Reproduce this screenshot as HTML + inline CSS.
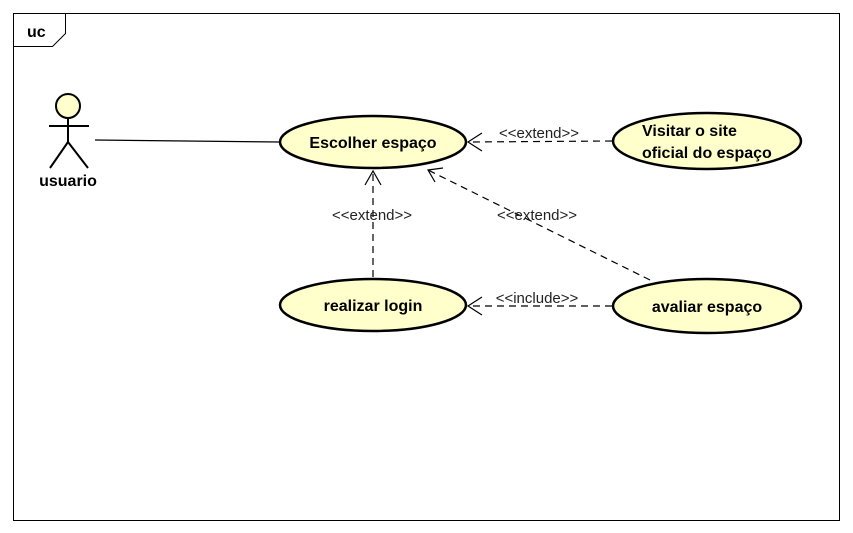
<!DOCTYPE html>
<html><head><meta charset="utf-8"><style>
html,body{margin:0;padding:0;background:#fff;width:853px;height:533px;overflow:hidden}
</style></head><body>
<svg width="853" height="533" xmlns="http://www.w3.org/2000/svg" font-family="Liberation Sans, sans-serif">
<rect x="0" y="0" width="853" height="533" fill="#fff"/>
<rect x="13.5" y="13.5" width="826" height="507" fill="none" stroke="#000" stroke-width="1"/>
<path d="M13.5 46.5 H52.5 L65.5 33.5 V13.5" fill="none" stroke="#000"/>
<text x="27" y="37" font-size="16" font-weight="bold">uc</text>
<!-- actor -->
<circle cx="68" cy="106" r="12" fill="#ffffcc" stroke="#000" stroke-width="2"/>
<line x1="49" y1="126" x2="89" y2="126" stroke="#000" stroke-width="2"/>
<line x1="68" y1="118" x2="68" y2="142" stroke="#000" stroke-width="2"/>
<polyline points="50,168 68,142 88,168" fill="none" stroke="#000" stroke-width="2"/>
<text x="68" y="186" font-size="16" font-weight="bold" text-anchor="middle">usuario</text>
<line x1="95" y1="140" x2="280" y2="142" stroke="#000" stroke-width="1.3"/>
<!-- ellipses -->
<g fill="#ffffcc" stroke="#000" stroke-width="2.5">
<ellipse cx="373" cy="142" rx="93" ry="26"/>
<ellipse cx="373" cy="305" rx="93" ry="26"/>
<ellipse cx="707" cy="141" rx="94" ry="28"/>
<ellipse cx="707" cy="306" rx="94" ry="27"/>
</g>
<g font-size="16" font-weight="bold">
<text x="373" y="148" text-anchor="middle">Escolher espaço</text>
<text x="373" y="311" text-anchor="middle">realizar login</text>
<text x="642" y="136">Visitar o site</text>
<text x="642" y="158">oficial do espaço</text>
<text x="707" y="312" text-anchor="middle">avaliar espaço</text>
</g>
<!-- connectors -->
<g stroke="#000" stroke-width="1.2" fill="none">
<line x1="612" y1="141" x2="468" y2="142" stroke-dasharray="7,5"/>
<polyline points="482,133 468,142 482,151"/>
<line x1="373" y1="277" x2="373" y2="171" stroke-dasharray="7,5"/>
<polyline points="365,185 373,171 381,185"/>
<line x1="650" y1="280" x2="428" y2="170" stroke-dasharray="7,5"/>
<polyline points="435,182 428,170 443,168"/>
<line x1="612" y1="306" x2="468" y2="306" stroke-dasharray="7,5"/>
<polyline points="482,297 468,306 482,315"/>
</g>
<g font-size="15" fill="#222" text-anchor="middle">
<text x="539" y="138">&lt;&lt;extend&gt;&gt;</text>
<text x="372" y="220">&lt;&lt;extend&gt;&gt;</text>
<text x="537" y="220">&lt;&lt;extend&gt;&gt;</text>
<text x="537" y="303">&lt;&lt;include&gt;&gt;</text>
</g>
</svg>
</body></html>
